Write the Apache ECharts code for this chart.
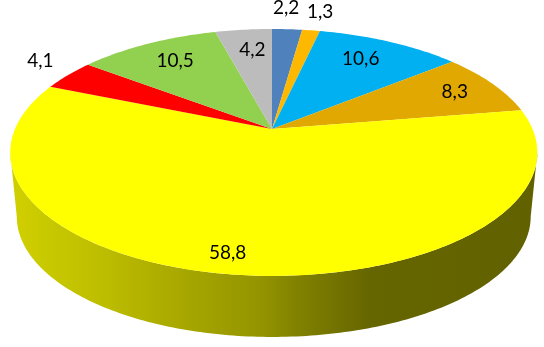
<!DOCTYPE html>
<html>
<head>
<meta charset="utf-8">
<style>html,body{margin:0;padding:0;background:#fff}#c{width:544px;height:347px}</style>
<script src="https://cdn.jsdelivr.net/npm/echarts@6/dist/echarts.min.js"></script>
</head>
<body>
<div id="c"></div>
<script>
// Data
const values = [2.2, 1.3, 10.6, 8.3, 58.8, 4.1, 10.5, 4.2];
const colors = ['#4F81BD', '#FFB800', '#00B0F0', '#E0A800', '#FFFF00', '#FF0000', '#92D050', '#BCBCBC'];

// Label placement: radius fraction at the slice's mid-angle, then pixel nudge
const labelRadius = [1, 1, 0.78, 0.8, 0.875, 1.15, 0.78, 0.767];
const labelNudgeX = [-1, 9, -6, 4, -14, 0, 3, 3];
const labelNudgeY = [-21, -18, 0, 0, 0, -7, 0, 0];

// Projection of the tilted disc
const P = { cx: 272, cy: 129, rRight: 260.5, rLeft: 257, ry: 119, k: 0.19, depth: 64.7, bottomScale: 0.975 };
const total = values.reduce((a, b) => a + b, 0);
function startOf(i) { let s = 0; for (let j = 0; j < i; j++) s += values[j]; return s; }
function project(frac, r, floor) {
  const a = frac / total * 2 * Math.PI;
  const u = Math.sin(a) * r, v = -Math.cos(a) * r;
  const w = 1 - P.k * v;
  const s = floor ? P.bottomScale : 1;
  const R = u < 0 ? P.rLeft : P.rRight;
  return [P.cx + s * R * u / w, P.cy + (floor ? P.depth : 0) + s * P.ry * v / w];
}
function arc(from, to, floor) {
  const n = Math.max(2, Math.ceil((to - from) * 4));
  const pts = [];
  for (let i = 0; i <= n; i++) pts.push(project(from + (to - from) * i / n, 1, floor));
  return pts;
}
// The part of the rim that faces the viewer: between the two silhouette tangents
const frontStart = Math.acos(-P.k) / (2 * Math.PI) * total;
const frontEnd = total - frontStart;
const wallFill = new echarts.graphic.LinearGradient(10, 0, 537, 0, [
  { offset: 0, color: '#D0D000' },
  { offset: 0.17, color: '#BEBE00' },
  { offset: 0.30, color: '#ABAB00' },
  { offset: 0.48, color: '#939300' },
  { offset: 0.55, color: '#808000' },
  { offset: 0.68, color: '#666600' },
  { offset: 1, color: '#616100' }
], true);

const data = values.map(v => [v]);
const chart = echarts.init(document.getElementById('c'), null, { renderer: 'canvas' });
chart.setOption({
  animation: false,
  backgroundColor: '#fff',
  series: [
    {
      type: 'custom', coordinateSystem: 'none', silent: true, z: 1, data,
      renderItem(params, api) {
        const s = startOf(params.dataIndex);
        const from = Math.max(s, frontStart), to = Math.min(s + api.value(0), frontEnd);
        if (to <= from) return { type: 'group', children: [] };
        const top = arc(from, to, false), bot = arc(from, to, true).reverse();
        return { type: 'polygon', shape: { points: top.concat(bot) }, style: { fill: wallFill } };
      }
    },
    {
      type: 'custom', coordinateSystem: 'none', silent: true, z: 2, data,
      renderItem(params, api) {
        const from = startOf(params.dataIndex), to = from + api.value(0);
        const pts = [[P.cx, P.cy]].concat(arc(from, to, false));
        return { type: 'polygon', shape: { points: pts }, style: { fill: colors[params.dataIndex] } };
      }
    },
    {
      type: 'custom', coordinateSystem: 'none', silent: true, z: 3, data,
      renderItem(params, api) {
        const i = params.dataIndex, v = api.value(0);
        const p = project(startOf(i) + v / 2, labelRadius[i], false);
        return {
          type: 'text',
          x: p[0] + labelNudgeX[i], y: p[1] + labelNudgeY[i],
          style: {
            text: String(v).replace('.', ','),
            fill: '#000', font: '19px Lato',
            align: 'center', verticalAlign: 'middle'
          }
        };
      }
    }
  ]
});
</script>
</body>
</html>
